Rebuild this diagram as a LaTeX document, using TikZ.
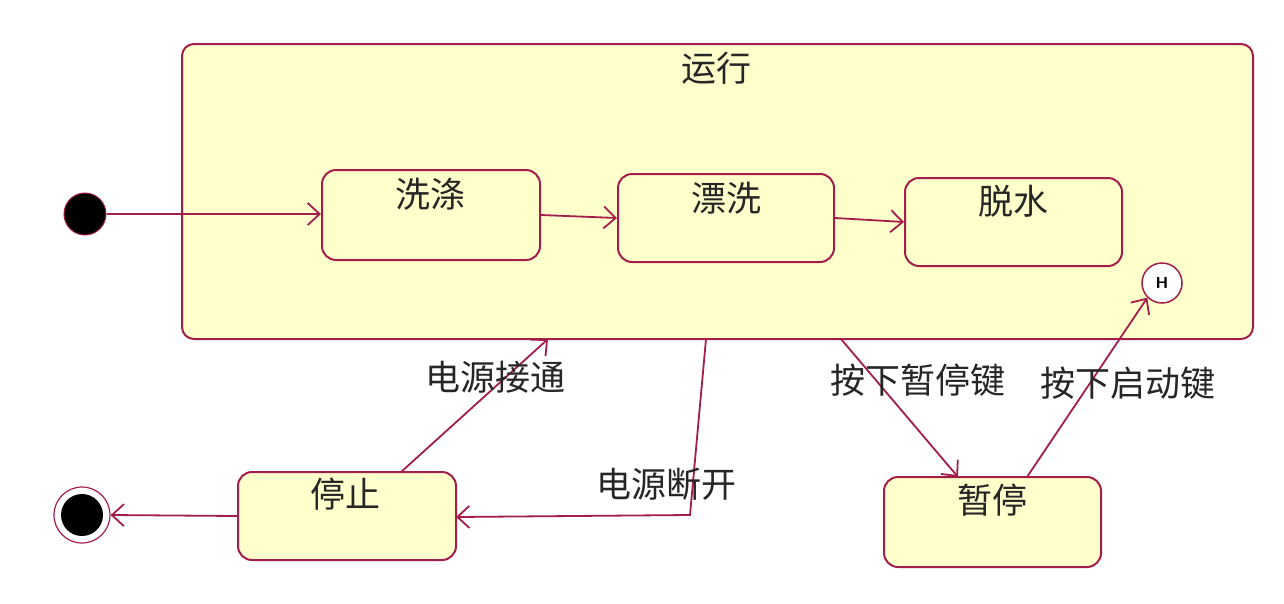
\documentclass[tikz,border=0pt]{standalone}
\usepackage{fontspec}
\newfontfamily\cjk{Noto Sans CJK SC}
\usetikzlibrary{arrows.meta}
\definecolor{umlline}{HTML}{A31E4B}
\definecolor{umlfill}{HTML}{FFFFCC}
\begin{document}
\begin{tikzpicture}[x=1pt,y=-1pt,
  statebox/.style={draw=umlline,fill=umlfill,line width=2pt,rounded corners=14pt,inner sep=0pt},
  lbl/.style={font=\cjk\fontsize{35}{37}\selectfont,text=black!85,inner sep=0pt},
  conn/.style={draw=umlline,line width=1.8pt,-{Straight Barb[length=12pt,width=22pt,line width=1.8pt]}},
]
\useasboundingbox[fill=white] (0,0) rectangle (1284,603);
% outer composite state
\node[statebox,minimum width=1071pt,minimum height=295pt,rounded corners=12pt] (run) at (717.5,191.5) {};
\node[lbl] (runt) at (716,68) {运行};
% substates
\node[statebox,minimum width=218pt,minimum height=90pt] (wash) at (431,215) {};
\node[lbl] (washt) at (430,194) {洗涤};
\node[statebox,minimum width=216pt,minimum height=88pt] (rinse) at (726,218) {};
\node[lbl] (rinset) at (726,198) {漂洗};
\node[statebox,minimum width=217pt,minimum height=88pt] (spin) at (1013.5,222) {};
\node[lbl] (spint) at (1013,201) {脱水};
% history
\node[draw=umlline,fill=white,line width=1.5pt,circle,minimum size=40pt,inner sep=0pt,font=\sffamily\bfseries\fontsize{16}{16}\selectfont] (hist) at (1162,283) {H};
% initial and final
\node[draw=umlline,fill=black,circle,minimum size=42pt,inner sep=0pt,line width=1pt] (init) at (85,214) {};
\node[draw=umlline,fill=white,circle,minimum size=56pt,inner sep=0pt,line width=1.2pt] (fin) at (82,515) {};
\node[fill=black,circle,minimum size=42pt,inner sep=0pt] (fincore) at (82,515) {};
% stop and pause
\node[statebox,minimum width=218pt,minimum height=88pt] (stop) at (347,516) {};
\node[lbl] (stopt) at (345,494) {停止};
\node[statebox,minimum width=217pt,minimum height=90pt] (pause) at (992.5,522) {};
\node[lbl] (pauset) at (992,500) {暂停};
% helper coordinates
\coordinate (onA) at (548,339);
\coordinate (offA) at (706,339);
\coordinate (offB) at (690,515);
\coordinate (offC) at (456,517);
\coordinate (pzA) at (841,339);
\coordinate (pzB) at (958,477);
\coordinate (rsA) at (1027,477);
\coordinate (stopTop) at (401,472);
% connectors
\draw[conn] (init.east) -- (init.east -| wash.west);
\draw[conn] (wash.east) -- (rinse.west);
\draw[conn] (rinse.east) -- (spin.west);
\draw[conn] (stop.west) -- (fin.east);
\draw[conn] (stopTop) -- (onA);
\draw[conn] (offA) -- (offB) -- (offC);
\draw[conn] (pzA) -- (pzB);
\draw[conn] (rsA) -- (hist.south west);
% labels
\node[lbl] (lon) at (495,377) {电源接通};
\node[lbl] (loff) at (666,484) {电源断开};
\node[lbl] (lpz) at (918,380) {按下暂停键};
\node[lbl] (lrs) at (1128,383) {按下启动键};
\end{tikzpicture}
\end{document}
